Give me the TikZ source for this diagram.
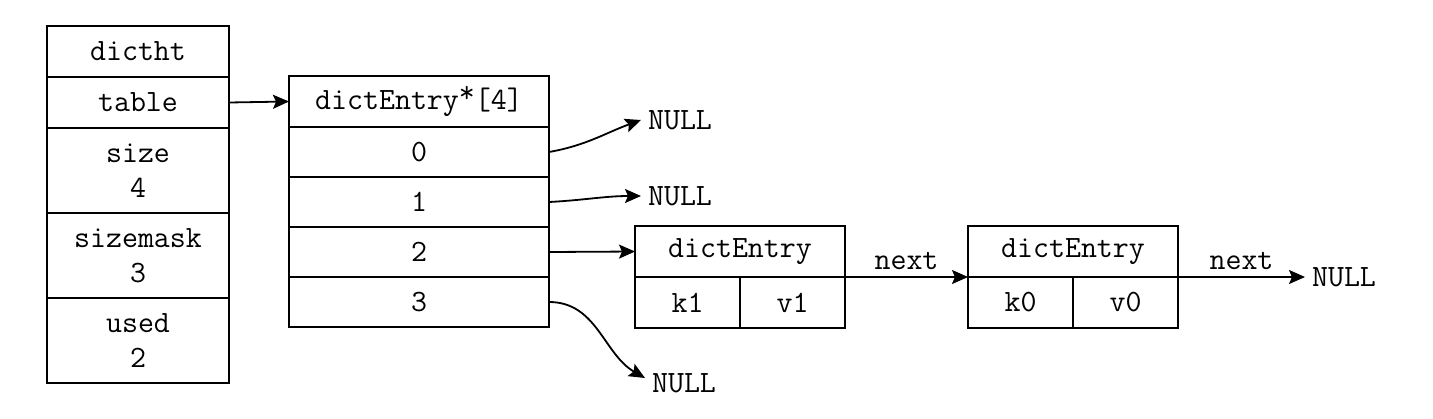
\documentclass[tikz,border=0pt]{standalone}
\usetikzlibrary{positioning,arrows.meta}

\tikzset{
  cell/.style={draw, line width=1.3pt, outer sep=0pt, inner sep=0pt, align=center,
    font=\ttfamily\fontsize{15.5}{17.5}\selectfont},
  txt/.style={font=\ttfamily\fontsize{15.5}{17.5}\selectfont},
  ptr/.style={-{Stealth[length=8pt,width=7pt,inset=1.5pt]}, line width=0.9pt}
}

\begin{document}
\begin{tikzpicture}[x=0.5pt,y=-0.5pt]
\useasboundingbox (0,0) rectangle (1433,418);
% dictht
\node [cell, minimum width=91pt, minimum height=25.5pt, anchor=north west] (dictht) at (47,26) {dictht};
\node [cell, minimum width=91pt, minimum height=25.5pt, below=0pt of dictht] (table) {table};
\node [cell, minimum width=91pt, minimum height=42.5pt, below=0pt of table] (size) {size\\4};
\node [cell, minimum width=91pt, minimum height=42.5pt, below=0pt of size] (sizemask) {sizemask\\3};
\node [cell, minimum width=91pt, minimum height=42.5pt, below=0pt of sizemask] (used) {used\\2};

% dictEntry*[4]
\node [cell, minimum width=130pt, minimum height=25.5pt, anchor=north west] (arr) at (289,76) {dictEntry\raisebox{0.22em}{*}[4]};
\foreach \i/\prev in {0/arr,1/r0,2/r1,3/r2}
  \node [cell, minimum width=130pt, minimum height=25pt, below=0pt of \prev] (r\i) {\i};

% entries
\node [cell, minimum width=105pt, minimum height=25.5pt, anchor=north west] (e1) at (635,226) {dictEntry};
\node [cell, minimum width=52.5pt, minimum height=25.5pt, anchor=north west] (k1) at (e1.south west) {k1};
\node [cell, minimum width=52.5pt, minimum height=25.5pt, anchor=north east] (v1) at (e1.south east) {v1};
\node [cell, minimum width=105pt, minimum height=25.5pt, anchor=north west] (e2) at (968,226) {dictEntry};
\node [cell, minimum width=52.5pt, minimum height=25.5pt, anchor=north west] (k0) at (e2.south west) {k0};
\node [cell, minimum width=52.5pt, minimum height=25.5pt, anchor=north east] (v0) at (e2.south east) {v0};

\node [txt, anchor=west] (null0) at (641,120) {NULL};
\node [txt, anchor=west] (null1) at (641,196) {NULL};
\node [txt, anchor=west] (null3) at (645,383) {NULL};
\node [txt, anchor=west] (null4) at (1305,277) {NULL};

\draw [ptr] (table.east) -- (arr.west);
\draw [ptr] (r0.east) to[out=10,in=200] (null0.west);
\draw [ptr] (r1.east) to[out=3,in=180] (null1.west);
\draw [ptr] (r2.east) -- (e1.west);
\draw [ptr] (r3.east) to[out=0,in=150] ([yshift=2.5pt]null3.west);
\draw [ptr] (e1.south east) -- node [txt, above] {next} (e2.south west);
\draw [ptr] (e2.south east) -- node [txt, above] {next} (null4.west);
\end{tikzpicture}
\end{document}
